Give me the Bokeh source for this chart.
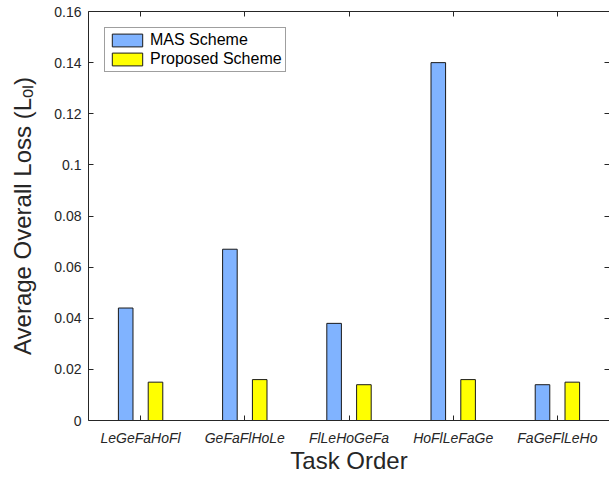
from bokeh.plotting import figure
from bokeh.models import (FixedTicker, LinearAxis, Legend, LegendItem,
                          ColumnDataSource, Range1d, CustomLabelingPolicy)
from bokeh.transform import dodge
from bokeh.embed import file_html
from bokeh.resources import INLINE

# ---------------- data ----------------
task_orders = ["LeGeFaHoFl", "GeFaFlHoLe", "FlLeHoGeFa", "HoFlLeFaGe", "FaGeFlLeHo"]
mas_scheme = [0.044, 0.067, 0.038, 0.140, 0.014]
proposed_scheme = [0.015, 0.016, 0.014, 0.016, 0.015]
series_names = ["MAS Scheme", "Proposed Scheme"]
y_ticks = [0, 0.02, 0.04, 0.06, 0.08, 0.10, 0.12, 0.14, 0.16]
y_tick_labels = ["0", "0.02", "0.04", "0.06", "0.08", "0.1", "0.12", "0.14", "0.16"]
x_label = "Task Order"
y_label = "Average Overall Loss (L\u2092\u2097)"

positions = list(range(1, len(task_orders) + 1))
src = ColumnDataSource(dict(x=positions, mas=mas_scheme, prop=proposed_scheme))

# ---------------- layout constants ----------------
FONT = "Liberation Sans"
TXT = "#262626"
X0, X1 = 0.5, len(task_orders) + 0.5
Y0, Y1 = 0, 0.16

p = figure(width=609, height=477, x_range=Range1d(X0, X1), y_range=Range1d(Y0, Y1),
           output_backend="svg", toolbar_location=None,
           x_axis_location=None, y_axis_location=None,
           min_border_left=88, min_border_right=0, min_border_top=11,
           min_border_bottom=57)
p.outline_line_color = None
p.grid.visible = False
p.background_fill_color = "white"
p.border_fill_color = "white"

r1 = p.vbar(x=dodge("x", -0.143, range=p.x_range), top="mas", width=0.14, source=src,
            fill_color="#80B3FF", line_color="#1a1a1a", line_width=1)
r2 = p.vbar(x=dodge("x", 0.143, range=p.x_range), top="prop", width=0.14, source=src,
            fill_color="#FFFF00", line_color="#1a1a1a", line_width=1)

no_labels = CustomLabelingPolicy(code="""
try { for (const i of [...indices]) { indices.unset(i) } } catch (e) {}
return indices
""")

def style_axis(ax, labels=True):
    ax.axis_line_color = TXT
    ax.axis_line_width = 1
    ax.major_tick_in = 5
    ax.major_tick_out = 0
    ax.major_tick_line_color = TXT
    ax.minor_tick_line_color = None
    ax.major_label_text_font = FONT
    ax.major_label_text_color = TXT
    ax.major_label_text_font_size = "14px"
    ax.axis_label_text_font = FONT
    ax.axis_label_text_font_style = "normal"
    ax.axis_label_text_color = TXT
    if not labels:
        ax.major_label_text_font_size = "0px"
        ax.major_label_standoff = 0
        ax.major_label_policy = no_labels

xb = LinearAxis(ticker=FixedTicker(ticks=positions),
                major_label_overrides={k: v for k, v in zip(positions, task_orders)})
style_axis(xb)
xb.major_label_text_font_style = "italic"
xb.major_label_standoff = 9
xb.axis_label = x_label
xb.axis_label_text_font_size = "24px"
xb.axis_label_standoff = -2
p.add_layout(xb, "below")

xt = LinearAxis(ticker=FixedTicker(ticks=positions))
style_axis(xt, labels=False)
p.add_layout(xt, "above")

yl = LinearAxis(ticker=FixedTicker(ticks=y_ticks),
                major_label_overrides={k: v for k, v in zip(y_ticks, y_tick_labels)})
style_axis(yl)
yl.major_label_standoff = 7
yl.axis_label = y_label
yl.axis_label_text_font_size = "24px"
yl.axis_label_standoff = 15
p.add_layout(yl, "left")

yr = LinearAxis(ticker=FixedTicker(ticks=y_ticks))
style_axis(yr, labels=False)
yr.axis_line_color = None
p.add_layout(yr, "right")

legend = Legend(items=[LegendItem(label=series_names[0], renderers=[r1]),
                       LegendItem(label=series_names[1], renderers=[r2])],
                location="top_left", margin=16, padding=3, spacing=1,
                glyph_width=38, glyph_height=16, label_height=16,
                label_standoff=4, label_text_font=FONT,
                label_text_font_size="16px", label_text_color="black",
                border_line_color="#404040", border_line_width=1,
                background_fill_color="white", background_fill_alpha=1)
p.add_layout(legend)

open("out.html", "w").write(file_html(p, INLINE))
